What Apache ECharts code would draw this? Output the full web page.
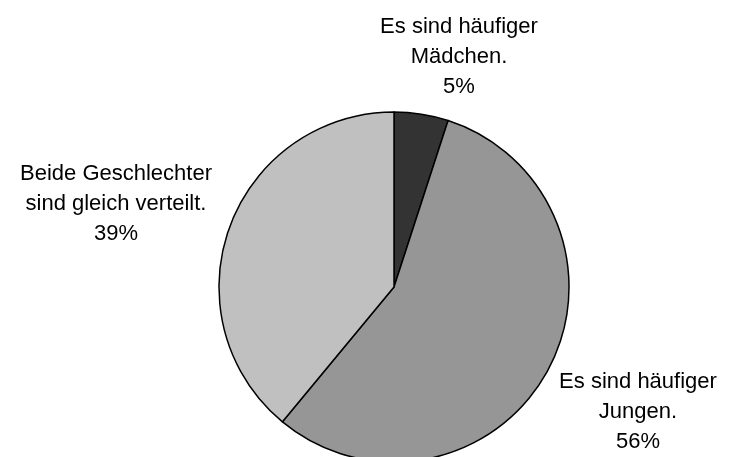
<!DOCTYPE html>
<html>
<head>
<meta charset="utf-8">
<script src="https://cdn.jsdelivr.net/npm/echarts@6/dist/echarts.min.js"></script>
<style>
    html, body { margin: 0; padding: 0; background: #fff; }
    #chart { width: 730px; height: 457px; }
</style>
</head>
<body>
<div id="chart"></div>
<script>
    // Antworten und Anteile (%)
    var categories = ['Es sind häufiger\nMädchen.', 'Es sind häufiger\nJungen.', 'Beide Geschlechter\nsind gleich verteilt.'];
    var shares = [5, 56, 39];
    var sliceColors = ['#333333', '#969696', '#c0c0c0'];

    // Lage der Beschriftungen (Mitte des Textblocks)
    var labelSpots = [[459, 57], [638, 412], [116, 204]];

    var myChart = echarts.init(document.getElementById('chart'), null, { renderer: 'canvas' });

    var option = {
        animation: false,
        series: [{
            type: 'pie',
            center: [394, 287],
            radius: 175,
            startAngle: 90,
            clockwise: true,
            itemStyle: {
                borderColor: '#000',
                borderWidth: 1.5
            },
            label: {
                show: true,
                position: 'outside',
                overflow: 'none',
                formatter: '{b}\n{c}%',
                fontFamily: 'Liberation Sans, Arial, sans-serif',
                fontSize: 22,
                lineHeight: 30,
                color: '#000',
                align: 'center'
            },
            labelLine: { show: false },
            labelLayout: function(params) {
                var p = labelSpots[params.dataIndex];
                return {
                    x: p[0],
                    y: p[1],
                    align: 'center',
                    verticalAlign: 'middle'
                };
            },
            emphasis: { disabled: true },
            data: categories.map(function(name, i) {
                return {
                    name: name,
                    value: shares[i],
                    itemStyle: { color: sliceColors[i] }
                };
            })
        }]
    };

    myChart.setOption(option);
</script>
</body>
</html>
